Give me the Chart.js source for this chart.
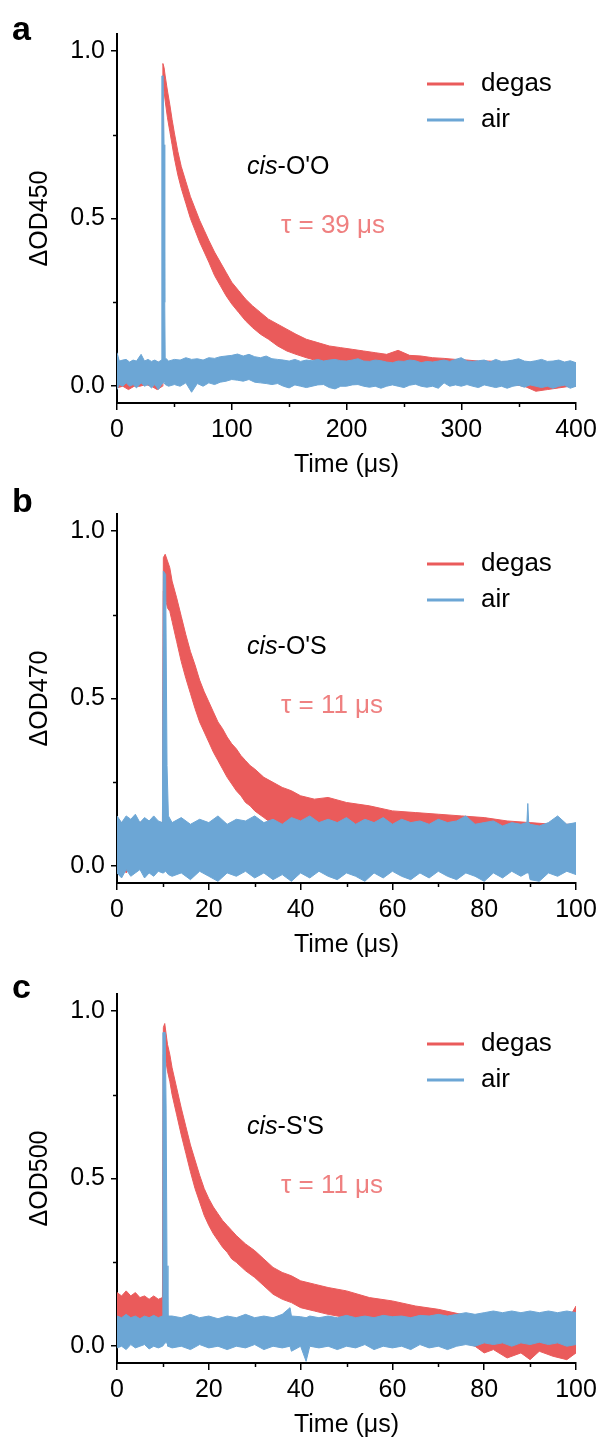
<!DOCTYPE html>
<html>
<head>
<meta charset="utf-8">
<script src="https://cdn.jsdelivr.net/npm/chart.js@4.4.1/dist/chart.umd.min.js"></script>
<style>
body { margin: 0; background: #fff; width: 603px; height: 1442px; position: relative; overflow: hidden; }
.panel { position: absolute; left: 0; width: 603px; height: 480px; }
</style>
</head>
<body>
<div class="panel" style="top:0px"><canvas id="chartA"></canvas></div>
<div class="panel" style="top:480px"><canvas id="chartB"></canvas></div>
<div class="panel" style="top:960px"><canvas id="chartC"></canvas></div>
<script>
// ---- tick labels ----
const yTicks = [0, 0.5, 1.0];
const yMinor = [0.25, 0.75];
const xTicksA = [0, 100, 200, 300, 400];
const xMinorA = [50, 150, 250, 350];
const xTicksBC = [0, 20, 40, 60, 80, 100];
const xMinorBC = [10, 30, 50, 70, 90];

// ---- panel a : cis-O'O, 450 nm ----
// each trace is a noisy band: lower / upper edge
const timeDegasA = [
  0, 5, 10, 15, 20, 25, 30, 35, 39.6, 40,
  41, 42, 44, 46, 48, 50, 53, 56, 60, 64,
  68, 72, 76, 80, 85, 90, 95, 100, 106, 112,
  118, 125, 132, 140, 148, 156, 165, 175, 185, 195,
  205, 215, 225, 235, 245, 255, 265, 275, 285, 295,
  305, 315, 325, 335, 345, 355, 365, 375, 385, 395,
  400];
const degasLoA = [
  -0.005, 0.0, -0.01, 0.0, 0.0, 0.005, 0.0, -0.01, 0.0, 0.89,
  0.88, 0.85, 0.80, 0.76, 0.72, 0.68, 0.63, 0.59, 0.545, 0.50,
  0.465, 0.43, 0.40, 0.37, 0.33, 0.30, 0.27, 0.245, 0.22, 0.195,
  0.175, 0.155, 0.14, 0.12, 0.105, 0.095, 0.085, 0.075, 0.07, 0.065,
  0.06, 0.055, 0.05, 0.048, 0.045, 0.04, 0.038, 0.035, 0.03, 0.03,
  0.025, 0.02, 0.015, 0.01, 0.005, 0.0, -0.015, -0.01, -0.005, 0.0,
  0.0];
const degasHiA = [
  0.07, 0.075, 0.07, 0.072, 0.07, 0.075, 0.07, 0.072, 0.07, 0.962,
  0.95, 0.925, 0.88, 0.84, 0.795, 0.755, 0.70, 0.655, 0.61, 0.565,
  0.53, 0.495, 0.465, 0.435, 0.40, 0.37, 0.34, 0.31, 0.285, 0.26,
  0.24, 0.22, 0.20, 0.185, 0.17, 0.155, 0.14, 0.13, 0.12, 0.115,
  0.11, 0.105, 0.10, 0.095, 0.107, 0.092, 0.09, 0.085, 0.083, 0.08,
  0.078, 0.075, 0.075, 0.072, 0.075, 0.07, 0.072, 0.07, 0.072, 0.07,
  0.068];
const timeAirA = [
  0, 2, 5, 8, 11, 14, 17, 21, 24, 27,
  30, 33, 36, 38.8, 39.1, 40.2, 41, 41.6, 42, 45,
  50, 55, 60, 65, 70, 75, 80, 85, 90, 95,
  100, 105, 110, 115, 120, 125, 130, 135, 140, 145,
  150, 155, 160, 165, 170, 175, 180, 185, 190, 195,
  200, 205, 210, 215, 220, 225, 230, 235, 240, 245,
  250, 255, 260, 265, 270, 275, 280, 285, 290, 295,
  300, 305, 310, 315, 320, 325, 330, 335, 340, 345,
  350, 355, 360, 365, 370, 375, 380, 385, 390, 395,
  400];
const airLoA = [
  -0.01, 0.005, 0.0, 0.01, 0.0, 0.005, -0.005, 0.01, 0.0, 0.005,
  -0.005, 0.005, -0.01, 0.005, 0.005, 0.01, 0.01, 0.01, 0.005, 0.0,
  0.005, 0.0, 0.01, -0.018, 0.008, 0.0, 0.01, 0.005, 0.012, 0.015,
  0.02, 0.018, 0.015, 0.02, 0.012, 0.01, 0.008, 0.005, 0.008, 0.0,
  -0.005, 0.004, 0.0, -0.004, 0.0, 0.004, 0.005, -0.004, -0.008, 0.0,
  0.0, 0.004, 0.005, 0.0, -0.003, 0.0, -0.006, 0.0, 0.004, 0.0,
  -0.004, 0.003, 0.006, 0.0, -0.003, 0.0, -0.006, 0.01, 0.0, 0.004,
  0.0, 0.005, 0.0, -0.004, 0.004, 0.0, -0.004, 0.0, -0.006, 0.0,
  0.003, -0.003, 0.004, 0.0, -0.004, 0.0, -0.006, 0.0, 0.003, -0.006,
  0.0];
const airHiA = [
  0.10, 0.075, 0.078, 0.08, 0.072, 0.078, 0.075, 0.095, 0.075, 0.08,
  0.074, 0.078, 0.072, 0.078, 0.925, 0.925, 0.72, 0.25, 0.085, 0.075,
  0.08, 0.078, 0.085, 0.08, 0.082, 0.078, 0.085, 0.083, 0.088, 0.09,
  0.092, 0.096, 0.09, 0.095, 0.088, 0.085, 0.09, 0.082, 0.08, 0.078,
  0.075, 0.08, 0.074, 0.078, 0.076, 0.08, 0.075, 0.078, 0.08, 0.076,
  0.075, 0.078, 0.082, 0.075, 0.074, 0.078, 0.076, 0.072, 0.07, 0.075,
  0.074, 0.078, 0.076, 0.07, 0.074, 0.072, 0.075, 0.078, 0.074, 0.08,
  0.085, 0.075, 0.074, 0.076, 0.078, 0.072, 0.08, 0.074, 0.075, 0.078,
  0.082, 0.075, 0.073, 0.076, 0.08, 0.074, 0.075, 0.078, 0.072, 0.076,
  0.07];

// ---- panel b : cis-O'S, 470 nm ----
const timeDegasB = [
  0, 1, 2, 3, 4, 5, 6, 7, 8, 9,
  9.9, 10.1, 10.5, 11, 11.5, 12, 13, 14, 15, 16,
  17, 18, 19, 20, 21, 22, 23, 24, 25, 26,
  27, 28, 29, 30, 32, 34, 36, 38, 40, 43,
  46, 50, 55, 60, 65, 70, 75, 80, 85, 90,
  95, 100];
const degasLoB = [
  -0.01, 0.0, -0.02, 0.0, -0.01, 0.0, -0.015, 0.0, -0.01, 0.0,
  0.0, 0.82, 0.80, 0.77, 0.76, 0.73, 0.67, 0.61, 0.56, 0.515,
  0.47, 0.43, 0.40, 0.37, 0.34, 0.315, 0.29, 0.265, 0.245, 0.225,
  0.21, 0.19, 0.18, 0.165, 0.145, 0.125, 0.11, 0.10, 0.09, 0.085,
  0.075, 0.065, 0.06, 0.055, 0.05, 0.045, 0.04, 0.04, 0.035, 0.03,
  0.03, 0.025];
const degasHiB = [
  0.135, 0.13, 0.14, 0.128, 0.135, 0.13, 0.14, 0.13, 0.135, 0.13,
  0.13, 0.92, 0.93, 0.91, 0.89, 0.85, 0.80, 0.745, 0.69, 0.64,
  0.60, 0.555, 0.52, 0.49, 0.46, 0.43, 0.41, 0.385, 0.365, 0.35,
  0.33, 0.315, 0.30, 0.29, 0.265, 0.25, 0.235, 0.225, 0.21, 0.20,
  0.205, 0.19, 0.18, 0.165, 0.16, 0.155, 0.15, 0.145, 0.135, 0.13,
  0.125, 0.125];
const timeAirB = [
  0, 1, 2, 3, 4, 5, 6, 7, 8, 9,
  9.9, 10.1, 10.6, 10.9, 11.2, 12, 14, 16, 18, 20,
  22, 24, 26, 28, 30, 32, 34, 36, 38, 40,
  42, 44, 46, 48, 50, 52, 54, 56, 58, 60,
  62, 64, 66, 68, 70, 72, 74, 76, 78, 80,
  82, 84, 86, 88, 89.3, 89.5, 89.7, 90, 92, 94,
  96, 98, 100];
const airLoB = [
  -0.02, -0.035, -0.01, -0.03, -0.02, -0.01, -0.035, -0.02, -0.03, -0.015,
  -0.02, -0.02, -0.015, -0.02, -0.025, -0.03, -0.02, -0.04, -0.015, -0.03,
  -0.045, -0.02, -0.03, -0.015, -0.035, -0.02, -0.04, -0.025, -0.045, -0.02,
  -0.035, -0.015, -0.03, -0.04, -0.02, -0.03, -0.045, -0.02, -0.035, -0.015,
  -0.03, -0.04, -0.02, -0.035, -0.015, -0.03, -0.04, -0.02, -0.03, -0.045,
  -0.02, -0.035, -0.015, -0.03, -0.02, -0.02, -0.02, -0.04, -0.045, -0.02,
  -0.03, -0.015, -0.025];
const airHiB = [
  0.15, 0.13, 0.15, 0.14, 0.155, 0.13, 0.145, 0.135, 0.15, 0.135,
  0.13, 0.88, 0.87, 0.30, 0.15, 0.13, 0.145, 0.125, 0.14, 0.13,
  0.15, 0.125, 0.14, 0.135, 0.15, 0.13, 0.14, 0.125, 0.145, 0.135,
  0.15, 0.13, 0.14, 0.13, 0.145, 0.125, 0.14, 0.13, 0.145, 0.125,
  0.14, 0.13, 0.135, 0.125, 0.14, 0.13, 0.135, 0.15, 0.125, 0.13,
  0.135, 0.12, 0.13, 0.125, 0.13, 0.187, 0.13, 0.125, 0.12, 0.13,
  0.15, 0.125, 0.13];

// ---- panel c : cis-S'S, 500 nm ----
const timeDegasC = [
  0, 1, 2, 3, 4, 5, 6, 7, 8, 9,
  9.9, 10.1, 10.4, 11, 11.5, 12, 13, 14, 15, 16,
  17, 18, 19, 20, 21, 22, 23, 24, 25, 26,
  28, 30, 32, 34, 36, 38, 40, 43, 46, 50,
  55, 60, 65, 70, 75, 78, 80, 82, 85, 88,
  90, 92, 95, 98, 100];
const degasLoC = [
  0.08, 0.075, 0.085, 0.07, 0.075, 0.07, 0.075, 0.07, 0.07, 0.075,
  0.07, 0.87, 0.87, 0.82, 0.79, 0.75, 0.69, 0.63, 0.575, 0.52,
  0.47, 0.43, 0.39, 0.36, 0.335, 0.315, 0.295, 0.28, 0.26, 0.25,
  0.225, 0.205, 0.18, 0.155, 0.14, 0.13, 0.115, 0.105, 0.095, 0.085,
  0.07, 0.06, 0.045, 0.03, 0.015, 0.0, -0.02, -0.01, -0.035, -0.02,
  -0.04, -0.015, -0.03, -0.04, -0.02];
const degasHiC = [
  0.16, 0.15, 0.165, 0.15, 0.16, 0.145, 0.15, 0.14, 0.15, 0.14,
  0.145, 0.95, 0.962, 0.90, 0.87, 0.83, 0.77, 0.71, 0.655, 0.60,
  0.555, 0.51, 0.47, 0.44, 0.415, 0.395, 0.375, 0.36, 0.345, 0.33,
  0.305, 0.285, 0.26, 0.235, 0.22, 0.21, 0.195, 0.185, 0.175, 0.165,
  0.145, 0.135, 0.12, 0.11, 0.095, 0.085, 0.075, 0.08, 0.07, 0.075,
  0.07, 0.075, 0.07, 0.072, 0.12];
const timeAirC = [
  0, 1, 2, 3, 4, 5, 6, 7, 8, 9,
  9.9, 10.0, 10.5, 10.7, 10.9, 11.1, 12, 14, 16, 18,
  20, 22, 24, 26, 28, 30, 32, 34, 36, 37.7,
  38, 40, 41.2, 42, 44, 46, 48, 50, 52, 54,
  56, 58, 60, 62, 64, 66, 68, 70, 72, 74,
  76, 78, 80, 82, 84, 86, 88, 90, 92, 94,
  96, 98, 100];
const airLoC = [
  -0.005, 0.0, -0.01, 0.005, -0.005, 0.0, 0.005, -0.008, 0.0, -0.005,
  0.0, 0.0, 0.01, 0.01, 0.01, 0.0, -0.005, 0.0, -0.01, 0.005,
  -0.005, 0.0, -0.01, 0.0, -0.005, 0.005, -0.01, 0.0, -0.005, 0.0,
  -0.015, 0.0, -0.045, 0.0, -0.005, 0.0, -0.01, 0.0, -0.005, 0.005,
  -0.01, 0.0, -0.005, 0.0, -0.01, 0.005, -0.005, 0.0, -0.01, 0.0,
  0.005, 0.0, 0.01, 0.005, 0.01, 0.0, 0.01, 0.005, 0.012, 0.005,
  0.01, 0.0, 0.005];
const airHiC = [
  0.09, 0.085, 0.095, 0.085, 0.09, 0.082, 0.09, 0.085, 0.092, 0.085,
  0.09, 0.935, 0.935, 0.71, 0.24, 0.09, 0.09, 0.085, 0.095, 0.085,
  0.09, 0.082, 0.09, 0.085, 0.095, 0.085, 0.09, 0.085, 0.095, 0.115,
  0.09, 0.088, 0.085, 0.09, 0.085, 0.09, 0.085, 0.092, 0.085, 0.09,
  0.085, 0.092, 0.088, 0.09, 0.085, 0.092, 0.09, 0.095, 0.09, 0.095,
  0.1, 0.095, 0.1, 0.105, 0.1, 0.105, 0.1, 0.105, 0.1, 0.105,
  0.1, 0.105, 0.1];

const fontFamily = "'Liberation Sans', Arial, Helvetica, sans-serif";
const degasColor = '#ea5b5b';
const airColor = '#6ca6d5';
const tauColor = '#ef8080';
const textColor = '#000';

// lower edge + upper edge filled together
function band(times, lo, hi, label, color) {
  const pts = vals => times.map((t, i) => ({x: t, y: vals[i]}));
  return [
    {label: '', data: pts(lo), borderColor: color, backgroundColor: color,
     borderWidth: 1, pointRadius: 0, fill: false},
    {label: label, data: pts(hi), borderColor: color, backgroundColor: color,
     borderWidth: 1, pointRadius: 0, fill: '-1'}
  ];
}

const decor = {
  id: 'decor',
  afterDraw(chart, args, o) {
    const ctx = chart.ctx, x = chart.scales.x, y = chart.scales.y;
    const area = chart.chartArea;
    ctx.save();
    // minor ticks
    ctx.strokeStyle = '#000';
    ctx.lineWidth = 1.5;
    o.minorX.forEach(v => {
      const px = Math.round(x.getPixelForValue(v)) + 0.5;
      ctx.beginPath(); ctx.moveTo(px, area.bottom); ctx.lineTo(px, area.bottom + 4); ctx.stroke();
    });
    yMinor.forEach(v => {
      const py = Math.round(y.getPixelForValue(v)) + 0.5;
      ctx.beginPath(); ctx.moveTo(area.left, py); ctx.lineTo(area.left - 4, py); ctx.stroke();
    });
    // legend
    ctx.font = '26px ' + fontFamily;
    ctx.textBaseline = 'middle';
    ctx.textAlign = 'left';
    ['degas', 'air'].forEach((name, i) => {
      const ds = chart.data.datasets.find(d => d.label === name);
      const ly = 84 + i * 36;
      ctx.strokeStyle = ds.borderColor;
      ctx.lineWidth = 3;
      ctx.beginPath(); ctx.moveTo(427, ly); ctx.lineTo(464, ly); ctx.stroke();
      ctx.fillStyle = textColor;
      ctx.fillText(name, 481, ly);
    });
    // compound name, cis in italics
    ctx.textBaseline = 'alphabetic';
    ctx.font = 'italic 25px ' + fontFamily;
    ctx.fillStyle = textColor;
    ctx.fillText('cis', 247, 174);
    const w = ctx.measureText('cis').width;
    ctx.font = '25px ' + fontFamily;
    ctx.fillText('-' + o.compound, 247 + w, 174);
    // lifetime
    ctx.font = '26px ' + fontFamily;
    ctx.fillStyle = tauColor;
    ctx.fillText(o.tau, 281, 233);
    // panel letter
    ctx.fillStyle = '#000';
    ctx.font = 'bold 34px ' + fontFamily;
    ctx.fillText(o.letter, 12, o.letterY);
    ctx.restore();
  }
};

function makePanel(id, cfg) {
  new Chart(document.getElementById(id), {
    type: 'line',
    data: {
      datasets: [
        ...band(cfg.timeAir, cfg.airLo, cfg.airHi, 'air', airColor),
        ...band(cfg.timeDegas, cfg.degasLo, cfg.degasHi, 'degas', degasColor)
      ]
    },
    options: {
      responsive: true,
      maintainAspectRatio: false,
      animation: false,
      devicePixelRatio: 1,
      layout: {padding: {left: 0, right: 27, top: 34, bottom: 0}},
      elements: {line: {tension: 0}},
      plugins: {
        legend: {display: false},
        tooltip: {enabled: false},
        decor: {minorX: cfg.minorX, compound: cfg.compound, tau: cfg.tau,
                letter: cfg.letter, letterY: cfg.letterY}
      },
      scales: {
        x: {
          type: 'linear', min: 0, max: cfg.xTicks[cfg.xTicks.length - 1],
          afterBuildTicks: s => { s.ticks = cfg.xTicks.map(v => ({value: v})); },
          afterFit: s => { s.height = 77; },
          ticks: {font: {family: fontFamily, size: 25}, color: textColor, padding: 5,
                  maxRotation: 0, autoSkip: false},
          grid: {drawOnChartArea: false, drawTicks: true, tickLength: 7, color: '#000', lineWidth: 1.5},
          border: {color: '#000', width: 2},
          title: {display: true, text: 'Time (μs)', color: textColor,
                  font: {family: fontFamily, size: 25}, padding: {top: 0, bottom: 0}}
        },
        y: {
          type: 'linear', min: -0.05, max: 1.05,
          afterBuildTicks: s => { s.ticks = yTicks.map(v => ({value: v})); },
          afterFit: s => { s.width = 117; },
          ticks: {font: {family: fontFamily, size: 25}, color: textColor, padding: 6,
                  callback: v => v.toFixed(1)},
          grid: {drawOnChartArea: false, drawTicks: true, tickLength: 6, color: '#000', lineWidth: 1.5},
          border: {color: '#000', width: 2},
          title: {display: true, text: cfg.yTitle, color: textColor,
                  font: {family: fontFamily, size: 25}, padding: {top: 25, bottom: 0}}
        }
      }
    },
    plugins: [decor]
  });
}

makePanel('chartA', {
  timeAir: timeAirA, airLo: airLoA, airHi: airHiA,
  timeDegas: timeDegasA, degasLo: degasLoA, degasHi: degasHiA,
  xTicks: xTicksA, minorX: xMinorA, yTitle: 'ΔOD450',
  compound: "O'O", tau: 'τ = 39 μs', letter: 'a', letterY: 40
});
makePanel('chartB', {
  timeAir: timeAirB, airLo: airLoB, airHi: airHiB,
  timeDegas: timeDegasB, degasLo: degasLoB, degasHi: degasHiB,
  xTicks: xTicksBC, minorX: xMinorBC, yTitle: 'ΔOD470',
  compound: "O'S", tau: 'τ = 11 μs', letter: 'b', letterY: 32
});
makePanel('chartC', {
  timeAir: timeAirC, airLo: airLoC, airHi: airHiC,
  timeDegas: timeDegasC, degasLo: degasLoC, degasHi: degasHiC,
  xTicks: xTicksBC, minorX: xMinorBC, yTitle: 'ΔOD500',
  compound: "S'S", tau: 'τ = 11 μs', letter: 'c', letterY: 38
});
</script>
</body>
</html>
